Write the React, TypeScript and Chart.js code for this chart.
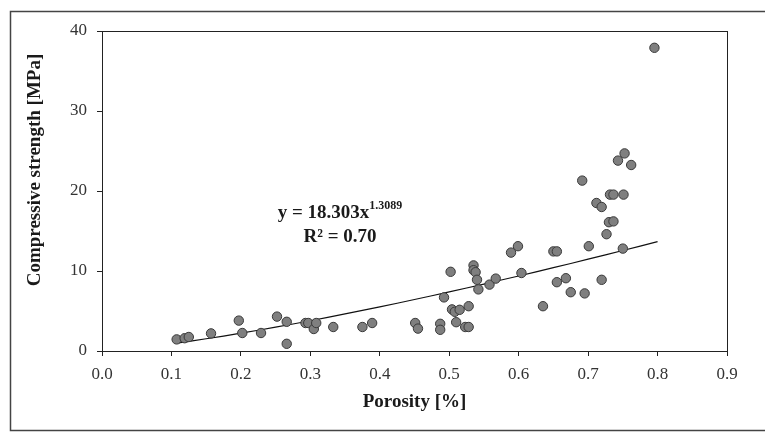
import React, { useEffect, useRef } from "react";
import { Chart, registerables } from "chart.js";

Chart.register(...registerables);

// Porosity [%] (fraction) and compressive strength [MPa]
const porosity = [
  0.1075, 0.119, 0.125, 0.157, 0.197, 0.202, 0.229, 0.252, 0.266, 0.266,
  0.293, 0.297, 0.305, 0.3085, 0.333, 0.375, 0.389, 0.451, 0.455, 0.487,
  0.487, 0.4925, 0.502, 0.504, 0.508, 0.51, 0.515, 0.523, 0.528, 0.528,
  0.535, 0.535, 0.538, 0.54, 0.542, 0.558, 0.567, 0.589, 0.599, 0.604,
  0.635, 0.65, 0.655, 0.655, 0.668, 0.675, 0.6915, 0.695, 0.701, 0.712,
  0.7195, 0.7195, 0.7265, 0.73, 0.7315, 0.7365, 0.7365, 0.743, 0.75, 0.751,
  0.7525, 0.762, 0.7955,
];
const strength = [
  1.45, 1.6, 1.75, 2.2, 3.8, 2.25, 2.25, 4.3, 3.65, 0.9,
  3.5, 3.5, 2.75, 3.5, 3.0, 3.0, 3.5, 3.5, 2.8, 3.4,
  2.65, 6.7, 9.9, 5.2, 4.9, 3.6, 5.15, 3.0, 3.0, 5.6,
  10.7, 10.1, 9.85, 8.9, 7.7, 8.3, 9.05, 12.3, 13.1, 9.75,
  5.6, 12.45, 12.45, 8.6, 9.1, 7.35, 21.3, 7.2, 13.1, 18.5,
  18.0, 8.9, 14.6, 16.1, 19.55, 19.55, 16.2, 23.8, 12.8, 19.55,
  24.7, 23.25, 37.9,
];

// Power-law trend shown on the chart: y = 18.303 x^1.3089
const trendCoef = 18.303;
const trendExp = 1.3089;
const trendX = [0.11, 0.15, 0.2, 0.25, 0.3, 0.35, 0.4, 0.45, 0.5, 0.55, 0.6, 0.65, 0.7, 0.75, 0.8];

const xTicks = [0, 0.1, 0.2, 0.3, 0.4, 0.5, 0.6, 0.7, 0.8, 0.9];
const yTicks = [0, 10, 20, 30, 40];

const xTitle = "Porosity [%]";
const yTitle = "Compressive strength [MPa]";
const eqMain = "y = 18.303x";
const eqSup = "1.3089";
const r2Text = "R\u00B2 = 0.70";

const FONT = "'Liberation Serif', 'Times New Roman', serif";

export default function App() {
  const ref = useRef<HTMLCanvasElement | null>(null);

  useEffect(() => {
    if (!ref.current) return;
    const scatterData = porosity.map((x, i) => ({ x, y: strength[i] }));
    const trendData = trendX.map((x) => ({ x, y: trendCoef * Math.pow(x, trendExp) }));

    const decor = {
      id: "decor",
      beforeDraw(chart: any) {
        const c = chart.ctx;
        c.save();
        c.fillStyle = "#fff";
        c.fillRect(0, 0, chart.width, chart.height);
        c.strokeStyle = "#444";
        c.lineWidth = 1.5;
        c.strokeRect(10.5, 11.5, 800, 419);
        c.restore();
      },
      afterDraw(chart: any) {
        const c = chart.ctx;
        const a = chart.chartArea;
        c.save();
        c.strokeStyle = "#222";
        c.lineWidth = 1;
        c.strokeRect(a.left + 0.5, a.top + 0.5, a.right - a.left, a.bottom - a.top);

        c.fillStyle = "#1a1a1a";
        c.textAlign = "center";
        c.textBaseline = "middle";
        c.font = `bold 19px ${FONT}`;
        c.fillText(xTitle, (a.left + a.right) / 2, 402);

        c.save();
        c.translate(35, 170);
        c.rotate(-Math.PI / 2);
        c.font = `bold 19px ${FONT}`;
        c.fillText(yTitle, 0, 0);
        c.restore();

        // equation
        c.font = `bold 19px ${FONT}`;
        const wMain = c.measureText(eqMain).width;
        c.font = `bold 12px ${FONT}`;
        const wSup = c.measureText(eqSup).width;
        const total = wMain + wSup;
        const cx = 340;
        const startX = cx - total / 2;
        c.textAlign = "left";
        c.font = `bold 19px ${FONT}`;
        c.fillText(eqMain, startX, 213);
        c.font = `bold 12px ${FONT}`;
        c.fillText(eqSup, startX + wMain, 206);
        c.textAlign = "center";
        c.font = `bold 19px ${FONT}`;
        c.fillText(r2Text, 340, 237);
        c.restore();
      },
    };

    const chart = new Chart(ref.current, {
      type: "scatter",
      data: {
        datasets: [
          {
            type: "scatter",
            data: scatterData,
            backgroundColor: "#7f7f7f",
            borderColor: "#3a3a3a",
            borderWidth: 1,
            pointRadius: 4.7,
            order: 1,
          },
          {
            type: "line",
            data: trendData,
            borderColor: "#111",
            borderWidth: 1.2,
            pointRadius: 0,
            tension: 0.4,
            fill: false,
            order: 2,
          } as any,
        ],
      },
      options: {
        responsive: false,
        animation: false,
        layout: { padding: { left: 0, right: 38, top: 31, bottom: 0 } },
        plugins: {
          legend: { display: false },
          tooltip: { enabled: false },
          title: { display: false },
        },
        scales: {
          x: {
            type: "linear",
            min: 0,
            max: 0.9,
            afterFit: (s: any) => {
              s.height = 82;
            },
            afterBuildTicks: (s: any) => {
              s.ticks = xTicks.map((v) => ({ value: v }));
            },
            ticks: {
              padding: 8,
              color: "#333",
              font: { family: FONT, size: 17 },
              callback: (v: any) => Number(v).toFixed(1),
            },
            grid: { drawOnChartArea: false, drawTicks: true, tickLength: 5, color: "#222" },
            border: { display: true, color: "#222", width: 1 },
          },
          y: {
            type: "linear",
            min: 0,
            max: 40,
            afterFit: (s: any) => {
              s.width = 102;
            },
            afterBuildTicks: (s: any) => {
              s.ticks = yTicks.map((v) => ({ value: v }));
            },
            ticks: {
              padding: 10,
              color: "#333",
              font: { family: FONT, size: 17 },
            },
            grid: { drawOnChartArea: false, drawTicks: true, tickLength: 5, color: "#222" },
            border: { display: true, color: "#222", width: 1 },
          },
        },
      },
      plugins: [decor],
    });
    return () => chart.destroy();
  }, []);

  return (
    <div style={{ position: "absolute", left: 0, top: 0, width: 765, height: 433 }}>
      <canvas ref={ref} width={765} height={433} />
    </div>
  );
}
